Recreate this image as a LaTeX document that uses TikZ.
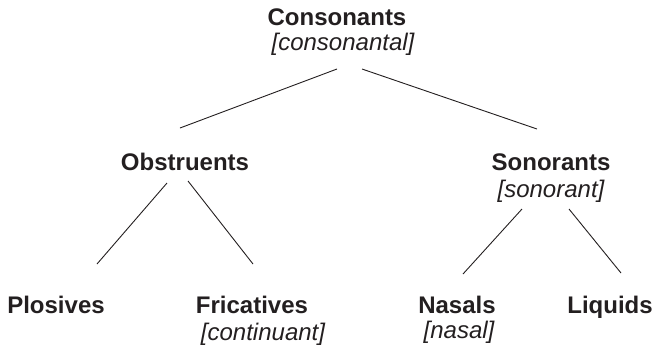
\documentclass[tikz,border=0pt]{standalone}
\usepackage{fontspec}
\setmainfont{Liberation Sans}
\definecolor{ink}{RGB}{35,31,32}
\begin{document}
\begin{tikzpicture}[x=1pt,y=-1pt,
  cat/.style={inner sep=0pt,anchor=base,font=\fontsize{24}{28}\selectfont\bfseries,text=ink},
  feat/.style={inner sep=0pt,anchor=base,font=\fontsize{24}{28}\selectfont\itshape,text=ink},
  branch/.style={draw=ink,line width=0.9pt}]
\useasboundingbox (0,0) rectangle (654,349);
% labels
\node[cat]  (cons)   at (337,25)  {Consonants};
\node[feat] (consf)  at (343,50)  {[consonantal]};
\node[cat]  (obs)    at (185,170) {Obstruents};
\node[cat]  (son)    at (551,170) {Sonorants};
\node[feat] (sonf)   at (551,197) {[sonorant]};
\node[cat]  (plo)    at (56,313)  {Plosives};
\node[cat]  (fri)    at (252,313) {Fricatives};
\node[feat] (frif)   at (263,340) {[continuant]};
\node[cat]  (nas)    at (457,313) {Nasals};
\node[feat] (nasf)   at (459,338) {[nasal]};
\node[cat]  (liq)    at (610,313) {Liquids};
% branch ends
\coordinate (c1) at (337,69);
\coordinate (c2) at (362,69);
\coordinate (o0) at (180,128);
\coordinate (s0) at (537,129);
\coordinate (o1) at (167,183);
\coordinate (o2) at (188,181);
\coordinate (p0) at (97,264);
\coordinate (f0) at (253,264);
\coordinate (s1) at (522,209);
\coordinate (s2) at (569,209);
\coordinate (n0) at (463,274);
\coordinate (l0) at (621,273);
% branches
\draw[branch] (c1) -- (o0);
\draw[branch] (c2) -- (s0);
\draw[branch] (o1) -- (p0);
\draw[branch] (o2) -- (f0);
\draw[branch] (s1) -- (n0);
\draw[branch] (s2) -- (l0);
\end{tikzpicture}
\end{document}
